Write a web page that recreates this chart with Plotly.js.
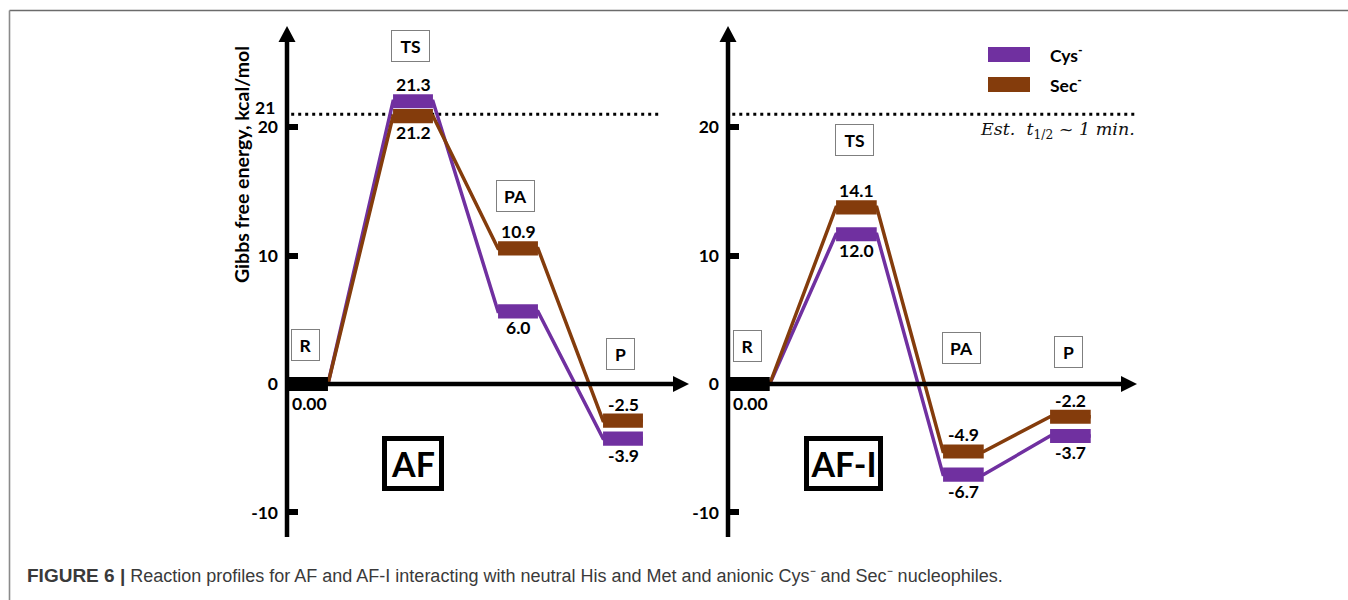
<!DOCTYPE html>
<html><head><meta charset="utf-8">
<script src="https://cdn.plot.ly/plotly-3.0.1.min.js"></script>
<style>html,body{margin:0;padding:0;background:#fff}</style>
</head><body><div id="chart" style="width:1348px;height:600px"></div>
<script>
// ---------- data ----------
const states = ['R', 'TS', 'PA', 'P'];
const seriesNames = ['Cys<sup>-</sup>', 'Sec<sup>-</sup>'];
const afCys = [0.00, 21.3, 6.0, -3.9];
const afSec = [0.00, 21.2, 10.9, -2.5];
const afiCys = [0.00, 12.0, -6.7, -3.7];
const afiSec = [0.00, 14.1, -4.9, -2.2];
const panelNames = ['AF', 'AF-I'];
const yTickVals = [-10, 0, 10, 20];
const yTickText = ['-10', '0', '10', '20'];
const threshold = 21;
const thresholdNote = '<i>Est.  t</i><sub>1/2</sub><i> ~ 1 min.</i>';
const yTitle = 'Gibbs free energy, kcal/mol';
const captionBold = 'FIGURE 6 |';
const captionText = 'Reaction profiles for AF and AF-I interacting with neutral His and Met and anionic Cys⁻ and Sec⁻ nucleophiles.';

// ---------- layout constants ----------
const W = 1348, H = 600;
const Y0PX = 384, PPY = 12.85, YR = [-12.5, 28.5];
const ypx = v => Y0PX - v * PPY;
const ydom = [(H - ypx(YR[0])) / H, (H - ypx(YR[1])) / H];
const colors = ['#7030A0', '#843C0C'];
const FONT = 'Lato, "Open Sans", sans-serif';
const stateX = [0.2, 1.2, 2.2, 3.2];
const HALF = 0.19, BAR_T = 1.1, OFFSET = -0.35;
const Y_BOTTOM = -11.9, Y_TIP = 27.86, ARROW_L = 16, ARROW_HW = 8.5;

const panels = [
  {axisPx: 287, ppx: 105, xr: [-0.4, 3.89], xTipPx: 689, dotEndPx: 662,
   vals: [afCys, afSec], name: panelNames[0], nameX: 1.2, nameW: 48,
   boxY: [3.03, 26.3, 14.6, 2.33], boxW: [21, 31, 31, 21], showTitle: true},
  {axisPx: 728, ppx: 107, xr: [-0.3, 3.95], xTipPx: 1137, dotEndPx: 1136,
   vals: [afiCys, afiSec], name: panelNames[1], nameX: 1.08, nameW: 65,
   boxY: [2.96, 19.0, 2.8, 2.49], boxW: [21, 31, 31, 21], showTitle: false}
];

const traces = [], shapes = [], annotations = [];
const layout = {
  width: W, height: H, margin: {l: 0, r: 0, t: 0, b: 0},
  paper_bgcolor: '#fff', plot_bgcolor: 'rgba(0,0,0,0)', showlegend: false,
  font: {family: FONT, color: '#000'}
};

panels.forEach((p, k) => {
  const xa = k === 0 ? 'x' : 'x2', ya = k === 0 ? 'y' : 'y2';
  const xKey = k === 0 ? 'xaxis' : 'xaxis2', yKey = k === 0 ? 'yaxis' : 'yaxis2';
  const pxOf = x => p.axisPx + x * p.ppx;
  layout[xKey] = {domain: [pxOf(p.xr[0]) / W, pxOf(p.xr[1]) / W], range: p.xr,
    visible: false, fixedrange: true, anchor: ya};
  layout[yKey] = {domain: ydom, range: YR, anchor: 'free', position: p.axisPx / W,
    showgrid: false, zeroline: false, showline: false,
    tickmode: 'array', tickvals: yTickVals, ticktext: yTickText,
    ticks: 'inside', ticklen: 10, tickwidth: 6, tickcolor: '#000', ticklabelstandoff: 9,
    tickfont: {family: FONT, size: 17.5, color: '#000', weight: 'bold'},
    fixedrange: true};

  // axes lines & arrows
  const xTip = (p.xTipPx - p.axisPx) / p.ppx;
  const yBase = Y_TIP - ARROW_L / PPY;
  const xBase = xTip - ARROW_L / p.ppx;
  shapes.push({type: 'line', xref: xa, yref: ya, x0: 0, x1: 0, y0: Y_BOTTOM, y1: yBase + 0.1,
    line: {color: '#000', width: 4.5}, layer: 'above'});
  shapes.push({type: 'line', xref: xa, yref: ya, x0: 0, x1: xBase + 0.01, y0: 0, y1: 0,
    line: {color: '#000', width: 4.5}, layer: 'above'});
  const hw = ARROW_HW / p.ppx;
  shapes.push({type: 'path', xref: xa, yref: ya, layer: 'above',
    path: `M ${-hw} ${yBase} L 0 ${Y_TIP} L ${hw} ${yBase} Z`,
    fillcolor: '#000', line: {width: 0}});
  const vh = 8 / PPY;
  shapes.push({type: 'path', xref: xa, yref: ya, layer: 'above',
    path: `M ${xBase} ${-vh} L ${xTip} 0 L ${xBase} ${vh} Z`,
    fillcolor: '#000', line: {width: 0}});
  // threshold dotted line
  shapes.push({type: 'line', xref: xa, yref: ya, x0: 0.04, x1: (p.dotEndPx - p.axisPx) / p.ppx,
    y0: threshold, y1: threshold, line: {color: '#000', width: 3, dash: '3px,4px'}, layer: 'below'});

  // bar centres
  const centers = p.vals.map(v => v.map(x => x + OFFSET));
  for (let i = 1; i < states.length; i++) {
    const a = centers[0][i], b = centers[1][i];
    if (Math.abs(a - b) < BAR_T + 0.05) {
      if (p.vals[0][i] >= p.vals[1][i]) centers[0][i] = b + BAR_T + 0.05;
      else centers[1][i] = a + BAR_T + 0.05;
    }
  }
  // connecting lines
  p.vals.forEach((v, s) => {
    const xs = [stateX[0] + HALF], ys = [0];
    for (let i = 1; i < states.length; i++) {
      xs.push(stateX[i] - HALF, stateX[i] + HALF);
      ys.push(centers[s][i], centers[s][i]);
    }
    traces.push({type: 'scatter', mode: 'lines', x: xs, y: ys, xaxis: xa, yaxis: ya,
      line: {color: colors[s], width: 3.5}, hoverinfo: 'skip', cliponaxis: false, name: seriesNames[s]});
  });
  // R bar
  shapes.push({type: 'rect', xref: xa, yref: ya, layer: 'above',
    x0: stateX[0] - HALF, x1: stateX[0] + HALF, y0: p.vals[0][0] - BAR_T / 2, y1: p.vals[0][0] + BAR_T / 2,
    fillcolor: '#000', line: {width: 0}});
  annotations.push({xref: xa, yref: ya, x: stateX[0] + 0.01, y: p.vals[0][0] - BAR_T / 2,
    yanchor: 'top', text: '<b>' + p.vals[0][0].toFixed(2) + '</b>', showarrow: false,
    font: {family: FONT, size: 17.5, color: '#000'}, yshift: 0});
  // state bars and labels
  for (let i = 1; i < states.length; i++) {
    const hiS = p.vals[0][i] >= p.vals[1][i] ? 0 : 1;
    p.vals.forEach((v, s) => {
      const c = centers[s][i];
      shapes.push({type: 'rect', xref: xa, yref: ya, layer: 'above',
        x0: stateX[i] - HALF, x1: stateX[i] + HALF, y0: c - BAR_T / 2, y1: c + BAR_T / 2,
        fillcolor: colors[s], line: {width: 0}});
      const up = s === hiS;
      annotations.push({xref: xa, yref: ya, x: stateX[i], y: up ? c + BAR_T / 2 : c - BAR_T / 2,
        yanchor: up ? 'bottom' : 'top', text: '<b>' + v[i].toFixed(1) + '</b>', showarrow: false,
        font: {family: FONT, size: 17.5, color: '#000'}, yshift: up ? -3 : 3});
    });
  }
  // state boxes
  states.forEach((st, i) => {
    annotations.push({xref: xa, yref: ya, x: stateX[i] - 0.02, y: p.boxY[i], text: '<b>' + st + '</b>',
      showarrow: false, width: p.boxW[i], height: 24, borderpad: 3, borderwidth: 1,
      bordercolor: '#7f7f7f', bgcolor: '#fff', font: {family: FONT, size: 17.5, color: '#000'}});
  });
  // panel name box
  annotations.push({xref: xa, yref: ya, x: p.nameX, y: -6.2, text: '<b>' + p.name + '</b>',
    showarrow: false, width: p.nameW, height: 41, borderpad: 2, borderwidth: 5,
    bordercolor: '#000', bgcolor: '#fff', font: {family: FONT, size: 34, color: '#000'}});
  if (p.showTitle) {
    annotations.push({xref: xa, yref: ya, x: -0.095, y: threshold, xanchor: 'right',
      text: '<b>' + threshold + '</b>', showarrow: false, yshift: 7,
      font: {family: FONT, size: 17.5, color: '#000'}});
  }
});

// y title
annotations.push({xref: 'paper', yref: 'paper', x: 241 / W, y: (H - 165) / H, xanchor: 'center', yanchor: 'middle',
  textangle: -90, text: '<b>' + yTitle + '</b>', showarrow: false, font: {family: FONT, size: 19.5, color: '#000'}});
// threshold note
annotations.push({xref: 'paper', yref: 'paper', x: 1137 / W, y: (H - 130) / H, xanchor: 'right', yanchor: 'middle',
  text: thresholdNote, showarrow: false, font: {family: '"DejaVu Serif", serif', size: 17.5, color: '#111'}});
// legend
seriesNames.forEach((n, s) => {
  const cy = 54.5 + 30 * s;
  shapes.push({type: 'rect', xref: 'paper', yref: 'paper', x0: 988 / W, x1: 1030 / W,
    y0: (H - cy - 7.5) / H, y1: (H - cy + 7.5) / H, fillcolor: colors[s], line: {width: 0}});
  annotations.push({xref: 'paper', yref: 'paper', x: 1048 / W, y: (H - cy) / H, xanchor: 'left', yanchor: 'middle',
    text: '<b>' + n + '</b>', showarrow: false, font: {family: FONT, size: 17.5, color: '#000'}});
});
// caption
annotations.push({xref: 'paper', yref: 'paper', x: 25 / W, y: (H - 575) / H, xanchor: 'left', yanchor: 'middle',
  text: '<b><span style="font-size:19px">' + captionBold + '</span></b> ' + captionText, showarrow: false,
  font: {family: '"Liberation Sans", Arial, sans-serif', size: 18, color: '#3a3a3a'}});
// frame
shapes.push({type: 'line', xref: 'paper', yref: 'paper', x0: 9.5 / W, x1: 1, y0: (H - 10.5) / H, y1: (H - 10.5) / H,
  line: {color: '#6b6b6b', width: 1.6}});
shapes.push({type: 'line', xref: 'paper', yref: 'paper', x0: 9.5 / W, x1: 9.5 / W, y0: 0, y1: (H - 10.5) / H,
  line: {color: '#8a8a8a', width: 1.6}});

layout.shapes = shapes;
layout.annotations = annotations;
Plotly.newPlot('chart', traces, layout, {displayModeBar: false, staticPlot: true});
</script></body></html>
